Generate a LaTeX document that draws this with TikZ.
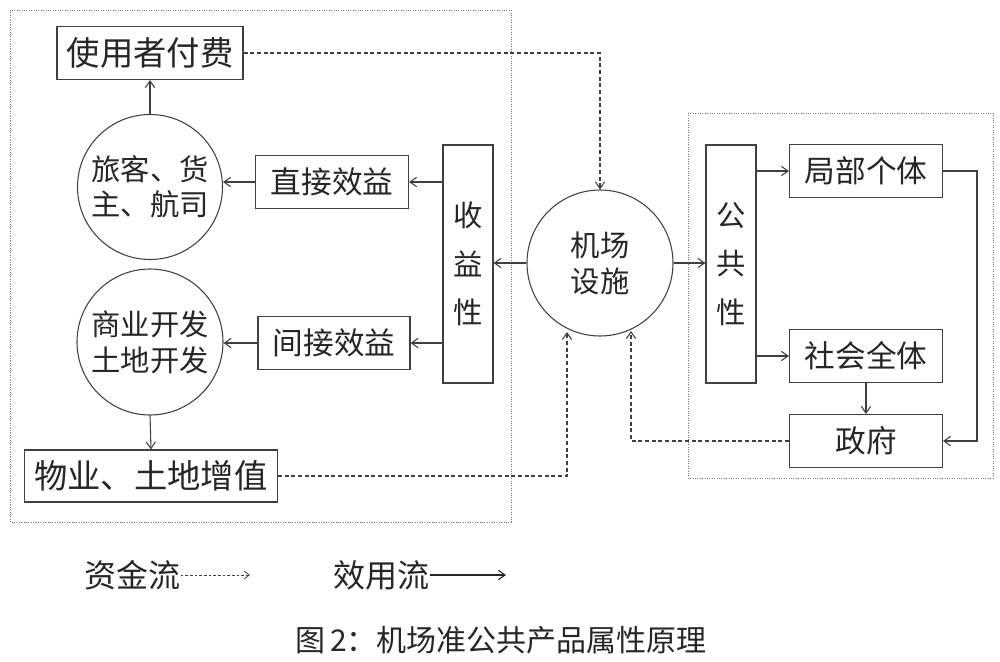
\documentclass[tikz,border=0pt]{standalone}
\usepackage{fontspec}
\setmainfont{Noto Sans CJK SC}
\usetikzlibrary{arrows.meta}
\def\upx{0.75pt}
\begin{document}
\begin{tikzpicture}[x=0.75pt,y=-0.75pt,
  every node/.style={font=\fontsize{23}{27}\selectfont, text=black!85},
  box/.style={draw=black!75, line width=0.8pt, inner sep=0pt},
  bigbox/.style={box, font=\fontsize{25}{30}\selectfont},
  vbox/.style={draw=black!75, line width=0.8pt, inner sep=0pt, align=center, font=\fontsize{22}{36.5}\selectfont},
  circ/.style={draw=black!75, line width=0.8pt, circle, inner sep=0pt, align=center, font=\fontsize{22}{27}\selectfont},
  flow/.style={draw=black!75, line width=0.8pt, -{Straight Barb[length=5pt,width=7pt]}},
  money/.style={draw=black!75, line width=0.8pt, dash pattern=on 3pt off 2pt, -{Straight Barb[length=5pt,width=7pt]}},
  frame/.style={draw=black!55, line width=0.6pt, dash pattern=on 0.6pt off 1.2pt}
]
\useasboundingbox (0,0) rectangle (1000,661);
\fill[white] (0,0) rectangle (1000,661);
% frames
\draw[frame] (10,10) rectangle (511,522);
\draw[frame] (688,113) rectangle (993,478);
% nodes
\node[bigbox, minimum width=186*\upx, minimum height=53*\upx] (fee) at (150,53) {使用者付费};
\node[circ, minimum size=145*\upx] (pass) at (150,187) {旅客、货\\[-1pt]主、航司};
\node[box, minimum width=153*\upx, minimum height=53*\upx] (direct) at (332,182) {直接效益};
\node[vbox, minimum width=50*\upx, minimum height=238*\upx] (rev) at (468,264) {收\\益\\性};
\node[circ, minimum size=146*\upx] (dev) at (150,342) {商业开发\\[0pt]土地开发};
\node[box, minimum width=152*\upx, minimum height=53*\upx] (indirect) at (334,343) {间接效益};
\node[bigbox, minimum width=253*\upx, minimum height=52*\upx] (prop) at (151,476) {物业、土地增值};
\node[circ, minimum size=146*\upx] (air) at (600,263) {机场\\[0pt]设施};
\node[vbox, minimum width=50*\upx, minimum height=238*\upx] (pub) at (731,264) {公\\共\\性};
\node[box, minimum width=153*\upx, minimum height=53*\upx] (local) at (866,171) {局部个体};
\node[box, minimum width=153*\upx, minimum height=53*\upx] (soc) at (866,356) {社会全体};
\node[box, minimum width=153*\upx, minimum height=53*\upx] (gov) at (866,441) {政府};
% utility flows
\draw[flow] (pass.north) -- (fee.south);
\draw[flow] (rev.west |- direct) -- (direct.east);
\draw[flow] (direct.west) -- (pass.east |- direct);
\draw[flow] (rev.west |- indirect) -- (indirect.east);
\draw[flow] (indirect.west) -- (dev.east |- indirect);
\draw[flow] (dev.south) -- (prop.north);
\draw[flow] (air.west) -- (rev.east |- air);
\draw[flow] (air.east) -- (pub.west |- air);
\draw[flow] (pub.east |- local) -- (local.west);
\draw[flow] (pub.east |- soc) -- (soc.west);
\draw[flow] (soc.south) -- (gov.north);
\coordinate (r1) at (977,171);
\coordinate (r2) at (977,441);
\draw[flow] (local.east) -- (r1) -- (r2) -- (gov.east);
% money flows
\coordinate (m1) at (600,53);
\draw[money] (fee.east) -- (m1) -- (air.north);
\coordinate (m2) at (567,476);
\coordinate (m2t) at (567,332);
\draw[money] (prop.east) -- (m2) -- (m2t);
\coordinate (m3) at (631,441);
\coordinate (m3t) at (631,331);
\draw[money] (gov.west) -- (m3) -- (m3t);
% legend
\node[anchor=west, inner sep=0pt, font=\fontsize{24}{28}\selectfont] (lg1) at (84,575) {资金流};
\coordinate (lg1e) at (250,575);
\draw[draw=black!75, line width=0.6pt, dash pattern=on 2pt off 1.5pt, -{Straight Barb[length=4pt,width=6pt]}] (lg1.east) -- (lg1e);
\node[anchor=west, inner sep=0pt, font=\fontsize{24}{28}\selectfont] (lg2) at (333,575) {效用流};
\coordinate (lg2e) at (506,575);
\draw[draw=black!85, line width=0.8pt, -{Straight Barb[length=5pt,width=7pt]}] (lg2.east) -- (lg2e);
% caption
\node[inner sep=0pt, font=\fontsize{22.5}{28}\selectfont] (cap) at (501,640) {图\,2：机场准公共产品属性原理};
\end{tikzpicture}
\end{document}
